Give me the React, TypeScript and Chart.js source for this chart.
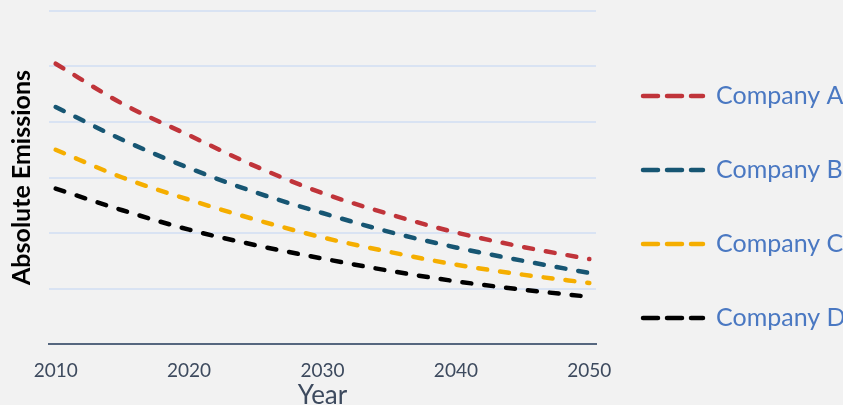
import React, { useEffect, useRef } from "react";
import { Chart, registerables } from "chart.js";

Chart.register(...registerables);

const years = [2010, 2015, 2020, 2025, 2030, 2035, 2040, 2045, 2050];
const companyA = [5.05, 4.33, 3.76, 3.2, 2.72, 2.34, 2.01, 1.75, 1.53];
const companyB = [4.27, 3.68, 3.17, 2.73, 2.36, 2.02, 1.74, 1.5, 1.28];
const companyC = [3.5, 3.0, 2.6, 2.24, 1.92, 1.66, 1.43, 1.25, 1.1];
const companyD = [2.8, 2.41, 2.06, 1.78, 1.54, 1.32, 1.13, 0.98, 0.85];
const seriesNames = ["Company A", "Company B", "Company C", "Company D"];
const seriesColors = ["#c0343a", "#175673", "#f5ae00", "#000000"];
const xTickValues = [2010, 2020, 2030, 2040, 2050];

const FONT = "Lato, 'Open Sans', sans-serif";

const legendPlugin = {
  id: "sideLegend",
  afterDraw(chart: any) {
    const ctx = chart.ctx;
    const ys = [96, 170, 244, 318];
    chart.data.datasets.forEach((ds: any, i: number) => {
      const y = ys[i];
      ctx.save();
      ctx.strokeStyle = ds.borderColor;
      ctx.lineWidth = 4.5;
      ctx.lineCap = "round";
      ctx.setLineDash([15, 9]);
      ctx.beginPath();
      ctx.moveTo(643, y);
      ctx.lineTo(703, y);
      ctx.stroke();
      ctx.setLineDash([]);
      ctx.fillStyle = "#4a78c2";
      ctx.font = `25px ${FONT}`;
      ctx.textBaseline = "middle";
      ctx.textAlign = "left";
      ctx.fillText(ds.label, 716, y);
      ctx.restore();
    });
  },
};

export default function App() {
  const ref = useRef<HTMLCanvasElement>(null);
  useEffect(() => {
    const seriesData = [companyA, companyB, companyC, companyD];
    const chart = new Chart(ref.current!, {
      type: "line",
      data: {
        datasets: seriesData.map((vals, i) => ({
          label: seriesNames[i],
          data: years.map((x, j) => ({ x, y: vals[j] })),
          borderColor: seriesColors[i],
          backgroundColor: seriesColors[i],
          borderWidth: 4.5,
          borderDash: [9, 13],
          borderCapStyle: "round",
          pointRadius: 0,
          tension: 0.4,
          cubicInterpolationMode: "monotone",
          fill: false,
        })),
      },
      options: {
        responsive: false,
        animation: false,
        layout: {
          autoPadding: false,
          padding: { left: 0, right: 247, top: 11, bottom: 0 },
        },
        plugins: {
          legend: { display: false },
          tooltip: { enabled: false },
        },
        scales: {
          x: {
            type: "linear",
            min: 2009.5,
            max: 2050.5,
            afterBuildTicks: (scale: any) => {
              scale.ticks = xTickValues.map((v) => ({ value: v }));
            },
            afterFit: (scale: any) => {
              scale.height = 61;
            },
            grid: { display: false, drawTicks: false },
            border: { display: true, color: "#56677f", width: 2 },
            ticks: {
              color: "#3d4a5e",
              font: { family: FONT, size: 19 },
              padding: 15,
              maxRotation: 0,
              autoSkip: false,
              callback: (v: any) => String(v),
            },
            title: {
              display: true,
              text: "Year",
              color: "#3d4a5e",
              font: { family: FONT, size: 26 },
              padding: { top: 0, bottom: -6 },
            },
          },
          y: {
            min: 0,
            max: 6,
            ticks: { display: false, stepSize: 1 },
            grid: {
              drawTicks: false,
              lineWidth: 2,
              color: (c: any) => (c.tick && c.tick.value === 0 ? "rgba(0,0,0,0)" : "#d9e3f3"),
            },
            border: { display: false },
            title: {
              display: true,
              text: "Absolute Emissions",
              color: "#000000",
              font: { family: FONT, size: 25, weight: "bold" },
              padding: { top: 7, bottom: 12 },
            },
          },
        },
      },
      plugins: [legendPlugin],
    });
    return () => chart.destroy();
  }, []);
  return (
    <div style={{ position: "absolute", left: 0, top: 0, width: 843, height: 405, background: "#f2f2f2" }}>
      <canvas ref={ref} width={843} height={405} />
    </div>
  );
}
